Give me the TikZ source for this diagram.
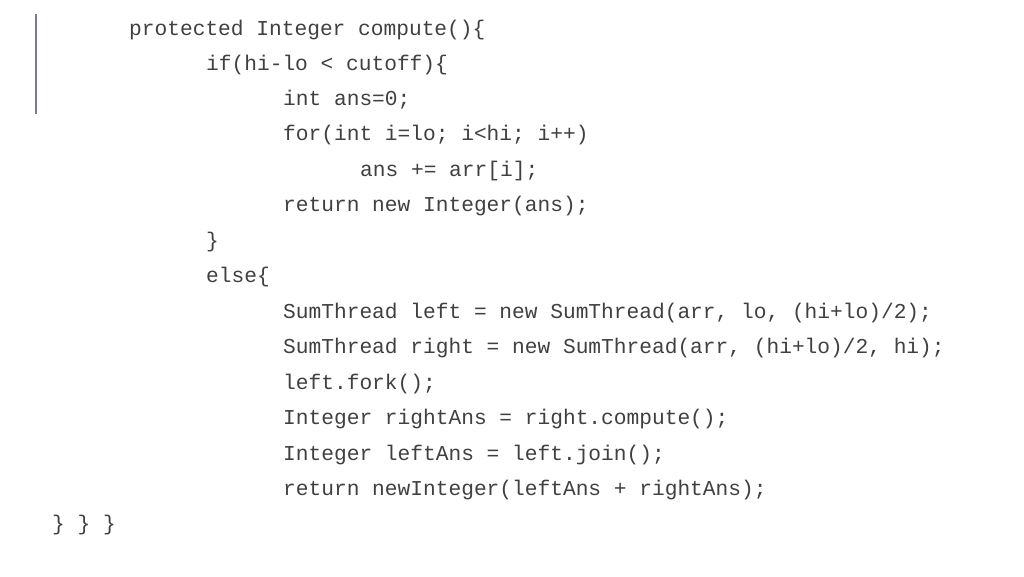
\documentclass[tikz,border=0pt]{standalone}
\usepackage{fontspec}
\setmonofont{Liberation Mono}
\definecolor{codec}{HTML}{404040}
\definecolor{barc}{HTML}{7A7890}
\begin{document}
\begin{tikzpicture}[x=1pt,y=-1pt,
  code/.style={anchor=mid west,inner sep=0pt,font=\ttfamily\fontsize{21.2}{24}\selectfont,text=codec}]
\useasboundingbox (0,0) rectangle (1024,576);
\draw[barc,line width=2pt] (36,14) -- (36,114);
\node[code] (l1) at (129,33) {protected Integer compute()\{};
\node[code] (l2) at (206,68) {if(hi-lo < cutoff)\{};
\node[code] (l3) at (283,103) {int ans=0;};
\node[code] (l4) at (283,138) {for(int i=lo; i<hi; i++)};
\node[code] (l5) at (360,174) {ans += arr[i];};
\node[code] (l6) at (283,209) {return new Integer(ans);};
\node[code] (l7) at (206,245) {\}};
\node[code] (l8) at (206,280) {else\{};
\node[code] (l9) at (283,316) {SumThread left = new SumThread(arr, lo, (hi+lo)/2);};
\node[code] (l10) at (283,351) {SumThread right = new SumThread(arr, (hi+lo)/2, hi);};
\node[code] (l11) at (283,387) {left.fork();};
\node[code] (l12) at (283,422) {Integer rightAns = right.compute();};
\node[code] (l13) at (283,458) {Integer leftAns = left.join();};
\node[code] (l14) at (283,493) {return newInteger(leftAns + rightAns);};
\node[code] (l15) at (52,528) {\} \} \}};
\end{tikzpicture}
\end{document}
